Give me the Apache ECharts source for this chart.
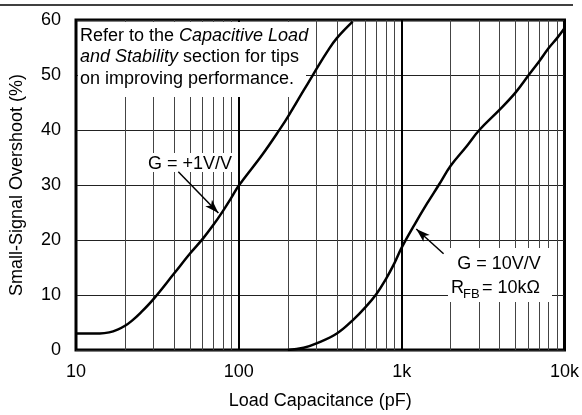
<!DOCTYPE html>
<html>
<head>
<meta charset="utf-8">
<script src="https://cdn.jsdelivr.net/npm/echarts@6/dist/echarts.min.js"></script>
<style>
html,body{margin:0;padding:0;background:#fff;}
#chart{width:582px;height:415px;}
</style>
</head>
<body>
<div id="chart"></div>
<script>
// ---- data ----
var g1Cap = [10, 12, 14, 16, 18, 20, 22, 25, 30, 40, 50, 60, 70, 80, 90, 100, 140, 180, 200, 250, 280, 300, 350, 400, 500];
var g1Overshoot = [3.0, 3.0, 3.0, 3.2, 3.7, 4.4, 5.3, 6.8, 9.3, 13.9, 17.5, 20.2, 22.8, 25.3, 27.7, 29.9, 35.6, 40.3, 42.4, 47.2, 49.6, 51.1, 54.3, 56.7, 59.7];
var g10Cap = [200, 250, 300, 400, 500, 600, 700, 800, 900, 1000, 1200, 1430, 1690, 2000, 2500, 3000, 4000, 5000, 6000, 7000, 8000, 9000, 10000];
var g10Overshoot = [0, 0.4, 1.2, 3, 5.4, 7.8, 10.2, 12.9, 15.7, 18.6, 22.8, 26.6, 30, 33.5, 37, 40, 43.7, 46.8, 49.9, 52.5, 54.9, 56.7, 58.5];
var xTickLabels = ['10', '100', '1k', '10k'];
var yTicks = [0, 10, 20, 30, 40, 50, 60];
var minorGridCaps = [20, 30, 40, 50, 60, 70, 80, 90, 200, 300, 400, 500, 600, 700, 800, 900, 2000, 3000, 4000, 5000, 6000, 7000, 8000, 9000];
var arrowG1 = [[42.5, 32.4], [74.9, 24.9]];
var arrowG10 = [[1809, 17.5], [1229, 22.0]];

function pairs(xs, ys) { return xs.map(function (x, i) { return [x, ys[i]]; }); }

var FONT = "'Liberation Sans', Arial, sans-serif";
var FS = 18;

var chart = echarts.init(document.getElementById('chart'), null, { renderer: 'canvas' });
chart.setOption({
  animation: false,
  backgroundColor: '#fff',
  grid: { left: 76, right: 17, top: 20, bottom: 63, show: true, borderColor: '#000', borderWidth: 3, backgroundColor: 'transparent' },
  xAxis: {
    type: 'log', logBase: 10, min: 10, max: 10000,
    name: 'Load Capacitance (pF)', nameLocation: 'middle', nameGap: 42,
    nameTextStyle: { fontFamily: FONT, fontSize: FS, color: '#000' },
    axisLine: { show: false }, axisTick: { show: false },
    axisLabel: { fontFamily: FONT, fontSize: FS, color: '#000', margin: 13,
      formatter: function (v) { return xTickLabels[Math.round(Math.log10(v)) - 1]; } },
    splitLine: { show: true, lineStyle: { color: '#000', width: 2 } }
  },
  yAxis: {
    type: 'value', min: yTicks[0], max: yTicks[yTicks.length - 1], interval: 10,
    name: 'Small-Signal Overshoot (%)', nameLocation: 'middle', nameGap: 50,
    nameTextStyle: { fontFamily: FONT, fontSize: FS, color: '#000' },
    axisLine: { show: false }, axisTick: { show: false },
    axisLabel: { fontFamily: FONT, fontSize: FS, color: '#000', margin: 15 },
    splitLine: { show: true, lineStyle: { color: '#222', width: 1 } }
  },
  graphic: { elements: [
    { type: 'line', z: 3, shape: { x1: 0, y1: 5, x2: 573, y2: 5 }, style: { stroke: '#000', lineWidth: 1.5 } },
    { type: 'rect', z: 3, shape: { x: 78, y: 22, width: 228, height: 75 }, style: { fill: '#fff' } },
    { type: 'rect', z: 3, shape: { x: 143, y: 153, width: 93, height: 19 }, style: { fill: '#fff' } },
    { type: 'rect', z: 3, shape: { x: 448, y: 248, width: 104, height: 54 }, style: { fill: '#fff' } },
    { type: 'text', z: 4, x: 80, y: 25, style: {
        text: '{n|Refer to the }{i|Capacitive Load}\n{i|and Stability}{n| section for tips}\n{n|on improving performance.}',
        rich: {
          n: { fontFamily: FONT, fontSize: FS, fill: '#000', lineHeight: 21.5 },
          i: { fontFamily: FONT, fontSize: FS, fontStyle: 'italic', fill: '#000', lineHeight: 21.5 }
        }, fill: '#000', verticalAlign: 'top', align: 'left' } },
    { type: 'text', z: 4, x: 190, y: 164, style: { text: 'G = +1V/V', font: FS + 'px ' + FONT, fill: '#000', align: 'center', verticalAlign: 'middle' } },
    { type: 'text', z: 4, x: 499, y: 264, style: { text: 'G = 10V/V', font: FS + 'px ' + FONT, fill: '#000', align: 'center', verticalAlign: 'middle' } },
    { type: 'text', z: 4, x: 451, y: 288, style: { text: 'R', font: FS + 'px ' + FONT, fill: '#000', align: 'left', verticalAlign: 'middle' } },
    { type: 'text', z: 4, x: 463, y: 294, style: { text: 'FB', font: '13px ' + FONT, fill: '#000', align: 'left', verticalAlign: 'middle' } },
    { type: 'text', z: 4, x: 482, y: 288, style: { text: '= 10k\u03A9', font: FS + 'px ' + FONT, fill: '#000', align: 'left', verticalAlign: 'middle' } }
  ] },
  series: [
    {
      type: 'line', z: 1, data: [[10, 0]], showSymbol: false, silent: true,
      lineStyle: { opacity: 0 },
      markLine: {
        z: 1, silent: true, symbol: ['none', 'none'], label: { show: false },
        lineStyle: { color: '#444', width: 1, type: 'solid' },
        emphasis: { disabled: true },
        data: minorGridCaps.map(function (c) { return { xAxis: c }; })
      }
    },
    {
      type: 'line', z: 10, data: pairs(g1Cap, g1Overshoot), smooth: 0.4, showSymbol: false,
      lineStyle: { color: '#000', width: 2.5 }
    },
    {
      type: 'line', z: 10, data: pairs(g10Cap, g10Overshoot), smooth: 0.4, showSymbol: false,
      lineStyle: { color: '#000', width: 2.5 }
    },
    {
      type: 'line', z: 10, data: [[10, 0]], showSymbol: false, silent: true,
      lineStyle: { opacity: 0 },
      markLine: {
        z: 11, silent: true, symbol: ['none', 'arrow'], symbolSize: [7, 14], label: { show: false },
        lineStyle: { color: '#000', width: 1.5, type: 'solid' },
        itemStyle: { color: '#000' },
        emphasis: { disabled: true },
        data: [
          [{ coord: arrowG1[0] }, { coord: arrowG1[1] }],
          [{ coord: arrowG10[0] }, { coord: arrowG10[1] }]
        ]
      }
    }
  ]
});
</script>
</body>
</html>
